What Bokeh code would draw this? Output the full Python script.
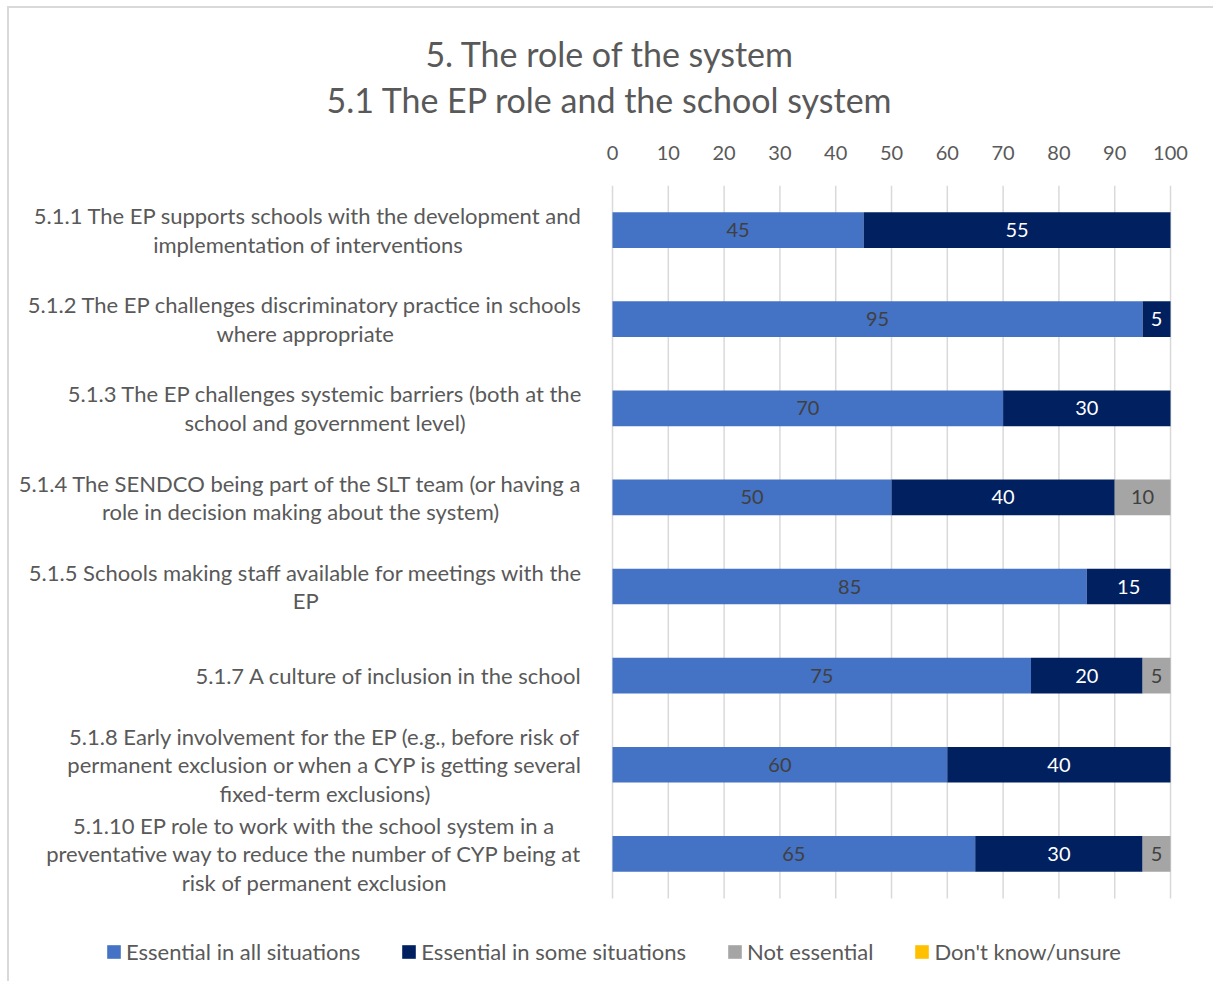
from bokeh.plotting import figure
from bokeh.models import (ColumnDataSource, Range1d, FixedTicker,
                          Title, Legend, LegendItem)
from bokeh.core.properties import value
from bokeh.embed import file_html
from bokeh.resources import INLINE

# ---------------- data ----------------
ids = ["5.1.1", "5.1.2", "5.1.3", "5.1.4", "5.1.5", "5.1.7", "5.1.8", "5.1.10"]
labels = [
    "5.1.1 The EP supports schools with the development and\nimplementation of interventions",
    "5.1.2 The EP challenges discriminatory practice in schools\nwhere appropriate",
    "5.1.3 The EP challenges systemic barriers (both at the\nschool and government level)",
    "5.1.4 The SENDCO being part of the SLT team (or having a\nrole in decision making about the system)",
    "5.1.5 Schools making staff available for meetings with the\nEP",
    "5.1.7 A culture of inclusion in the school",
    "5.1.8 Early involvement for the EP (e.g., before risk of\npermanent exclusion or when a CYP is getting several\nfixed-term exclusions)",
    "5.1.10 EP role to work with the school system in a\npreventative way to reduce the number of CYP being at\nrisk of permanent exclusion",
]
essential_all = [45, 95, 70, 50, 85, 75, 60, 65]
essential_some = [55, 5, 30, 40, 15, 20, 40, 30]
not_essential = [0, 0, 0, 10, 0, 5, 0, 5]
unsure = [0, 0, 0, 0, 0, 0, 0, 0]
series_keys = ["all", "some", "not", "unsure"]
series_names = ["Essential in all situations", "Essential in some situations",
                "Not essential", "Don't know/unsure"]
colors = ["#4472C4", "#002060", "#A5A5A5", "#FFC000"]
label_colors = ["#404040", "#FFFFFF", "#404040", "#404040"]
ticks = [0, 10, 20, 30, 40, 50, 60, 70, 80, 90, 100]
title_text = "5. The role of the system\n5.1 The EP role and the school system"

FONT = "Lato"
GRAY = "#595959"

# category positions (0 = top row)
ypos = list(range(len(ids)))
n = len(ids)

# ---------------- figure ----------------
p = figure(width=1206, height=975,
           x_range=Range1d(-107.17, 106.27),
           y_range=Range1d(start=n - 0.5 + 0.954, end=-0.5),
           x_axis_location="above", y_axis_location=None,
           output_backend="svg", toolbar_location=None,
           min_border_left=5, min_border_right=10,
           min_border_top=177, min_border_bottom=0)
p.margin = (6, 0, 0, 7)
p.styles = {"border-left": "2px solid #D9D9D9", "border-top": "2px solid #D9D9D9"}
p.outline_line_color = None
p.background_fill_color = "white"
p.border_fill_color = "white"

# axis
p.xaxis.ticker = FixedTicker(ticks=ticks)
p.xaxis.axis_line_color = None
p.xaxis.major_tick_line_color = None
p.xaxis.minor_tick_line_color = None
p.xaxis.major_label_text_font = FONT
p.xaxis.major_label_text_font_size = "20px"
p.xaxis.major_label_text_color = GRAY
p.xaxis.major_label_standoff = 20

p.xgrid.visible = False
p.ygrid.visible = False

# vertical gridlines spanning only the category area
p.segment(x0=ticks, x1=ticks, y0=[-0.5] * len(ticks), y1=[n - 0.5] * len(ticks),
          line_color="#D9D9D9", line_width=1.5)

# title
title = Title(text=title_text, align="center", text_font=FONT,
              text_font_size="34px", text_font_style="normal",
              text_color=GRAY, standoff=45, text_line_height=1.13)
if "text_align" in Title.properties():
    title.text_align = "center"
p.add_layout(title, "above")

# bars
data = {"y": ypos, "all": essential_all, "some": essential_some,
        "not": not_essential, "unsure": unsure}
src = ColumnDataSource(data)
renderers = p.hbar_stack(series_keys, y="y", height=0.4, color=colors,
                         line_color=None, source=src)

# value labels
lx, ly, lt, lc = [], [], [], []
for i in range(n):
    left = 0
    for k, vals in enumerate([essential_all, essential_some, not_essential, unsure]):
        v = vals[i]
        if v > 0:
            lx.append(left + v / 2)
            ly.append(ypos[i])
            lt.append(str(v))
            lc.append(label_colors[k])
        left += v
lsrc = ColumnDataSource(dict(x=lx, y=ly, t=lt, c=lc))
p.text(x="x", y="y", text="t", text_color="c", source=lsrc,
       text_align="center", text_baseline="middle",
       text_font=value(FONT), text_font_size="20px")

# category labels
csrc = ColumnDataSource(dict(x=[0] * n, y=ypos, t=labels))
p.text(x="x", y="y", text="t", source=csrc, x_offset=-30,
       anchor="center_right", text_align="center", text_baseline="middle",
       text_font=value(FONT), text_font_size="22px", text_color=GRAY,
       text_line_height=1.06)

# legend
legend = Legend(items=[LegendItem(label=nm, renderers=[r])
                       for nm, r in zip(series_names, renderers)],
                orientation="horizontal", location=(91, 18),
                glyph_width=17, glyph_height=17, label_standoff=4, spacing=40,
                padding=5, margin=0, border_line_color=None,
                background_fill_alpha=0,
                label_text_font=FONT, label_text_font_size="22px",
                label_text_color=GRAY)
p.add_layout(legend)

open("out.html", "w").write(file_html(p, INLINE))
